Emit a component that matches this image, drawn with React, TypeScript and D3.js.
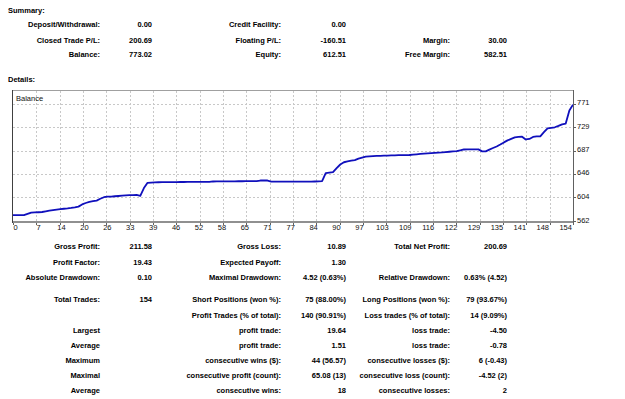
import * as d3 from 'd3'

// balance after each closed trade (0 = start)
const balance = [
  572.3, 572.3, 572.3, 572.3, 574.5, 576.8, 577.2, 577.6, 578.0, 579.2,
  580.4, 581.4, 582.4, 583.2, 583.8, 584.4, 585.2, 586.3, 587.6, 591.5,
  594.0, 596.0, 597.2, 598.3, 601.5, 604.3, 605.2, 605.5, 606.0, 606.5,
  607.0, 607.4, 607.9, 608.2, 608.4, 606.7, 620.5, 629.9, 630.3, 630.6,
  630.9, 631.1, 631.2, 631.2, 631.3, 631.3, 631.4, 631.4, 631.5, 631.5,
  631.5, 631.6, 631.6, 631.7, 631.7, 632.3, 632.4, 632.4, 632.5, 632.5,
  632.6, 632.6, 632.7, 632.7, 632.8, 632.8, 632.9, 632.9, 634.0, 634.0,
  634.0, 632.2, 632.2, 632.2, 632.2, 632.2, 632.2, 632.2, 632.2, 632.2,
  632.2, 632.2, 632.2, 632.3, 632.4, 633.0, 647.2, 648.2, 649.0, 656.0,
  662.5, 666.5, 668.0, 669.3, 670.4, 673.0, 674.8, 676.5, 677.0, 677.4,
  677.7, 678.0, 678.2, 678.4, 678.6, 678.8, 679.0, 679.1, 679.3, 679.4,
  680.0, 680.6, 681.3, 682.0, 682.4, 682.8, 683.2, 683.6, 684.0, 684.6,
  685.2, 685.8, 686.4, 687.8, 689.2, 689.4, 689.4, 689.4, 689.4, 685.8,
  685.8, 689.0, 691.8, 694.5, 698.0, 701.8, 705.4, 708.0, 710.6, 711.5,
  712.0, 707.0, 707.9, 711.5, 712.6, 712.6, 720.0, 726.9, 727.8, 728.7,
  731.2, 734.0, 735.3, 758.5, 769.0,
]

const xTickLabels = [
  '0', '7', '14', '20', '26', '33', '39', '46', '52', '58', '65', '71', '77',
  '84', '90', '97', '103', '109', '116', '122', '129', '135', '141', '148', '154',
]
const yTicks = [562, 604, 646, 687, 729, 771]

const summaryRows = [
  ['Deposit/Withdrawal:', '0.00', 'Credit Facility:', '0.00', '', ''],
  ['Closed Trade P/L:', '200.69', 'Floating P/L:', '-160.51', 'Margin:', '30.00'],
  ['Balance:', '773.02', 'Equity:', '612.51', 'Free Margin:', '582.51'],
]

const detailRows = [
  ['Gross Profit:', '211.58', 'Gross Loss:', '10.89', 'Total Net Profit:', '200.69'],
  ['Profit Factor:', '19.43', 'Expected Payoff:', '1.30', '', ''],
  ['Absolute Drawdown:', '0.10', 'Maximal Drawdown:', '4.52 (0.63%)', 'Relative Drawdown:', '0.63% (4.52)'],
  ['Total Trades:', '154', 'Short Positions (won %):', '75 (88.00%)', 'Long Positions (won %):', '79 (93.67%)'],
  ['', '', 'Profit Trades (% of total):', '140 (90.91%)', 'Loss trades (% of total):', '14 (9.09%)'],
  ['Largest', '', 'profit trade:', '19.64', 'loss trade:', '-4.50'],
  ['Average', '', 'profit trade:', '1.51', 'loss trade:', '-0.78'],
  ['Maximum', '', 'consecutive wins ($):', '44 (56.57)', 'consecutive losses ($):', '6 (-0.43)'],
  ['Maximal', '', 'consecutive profit (count):', '65.08 (13)', 'consecutive loss (count):', '-4.52 (2)'],
  ['Average', '', 'consecutive wins:', '18', 'consecutive losses:', '2'],
]

const W = 625
const H = 399
const colRight = [100, 152, 281, 346, 450, 507]
const summaryY = [24.5, 40, 54.5]
const detailY = [246, 262, 277, 299, 315, 330, 345, 360, 375, 390]

const plot = { left: 13, right: 573, top: 91, bottom: 221 }

function Table({ rows, ys }: { rows: string[][]; ys: number[] }) {
  return (
    <g>
      {rows.map((row, r) =>
        row.map((cell, c) =>
          cell ? (
            <text
              key={`${r}-${c}`}
              x={colRight[c]}
              y={ys[r]}
              textAnchor="end"
              dominantBaseline="central"
            >
              {cell}
            </text>
          ) : null
        )
      )}
    </g>
  )
}

export default function App() {
  const x = d3.scaleLinear().domain([0, balance.length - 1]).range([plot.left, plot.right])
  const y = d3.scaleLinear().domain([562, 771]).range([plot.bottom, 103.5])
  const gridX = d3.scaleLinear().domain([0, xTickLabels.length - 1]).range([plot.left, plot.right])
  const labelX = d3.scalePoint<string>().domain(xTickLabels).range([15.7, 565.7])

  const line = d3
    .line<number>()
    .x((_, i) => x(i))
    .y(d => y(d))

  return (
    <svg
      width={W}
      height={H}
      style={{ position: 'absolute', left: 0, top: 0, background: '#fff' }}
      fontFamily="'Liberation Sans', Arial, sans-serif"
    >
      <g fontSize={7.5} fontWeight="bold" fill="#000">
        <text x={8} y={10} dominantBaseline="central">Summary:</text>
        <Table rows={summaryRows} ys={summaryY} />
        <text x={8} y={79} dominantBaseline="central">Details:</text>
        <Table rows={detailRows} ys={detailY} />
      </g>

      {/* chart */}
      <rect
        x={plot.left}
        y={plot.top}
        width={plot.right - plot.left}
        height={plot.bottom - plot.top}
        fill="#fff"
      />
      <g stroke="#c8c8c8" strokeWidth={1} strokeDasharray="2,2" shapeRendering="crispEdges">
        {yTicks.slice(1).map(t => (
          <line key={t} x1={plot.left} x2={plot.right} y1={Math.round(y(t)) + 0.5} y2={Math.round(y(t)) + 0.5} />
        ))}
        {xTickLabels.slice(1, -1).map((_, i) => (
          <line
            key={i}
            x1={Math.round(gridX(i + 1)) + 0.5}
            x2={Math.round(gridX(i + 1)) + 0.5}
            y1={plot.top}
            y2={plot.bottom}
          />
        ))}
      </g>
      <path d={line(balance) || ''} fill="none" stroke="#1010bc" strokeWidth={1.8} strokeLinejoin="round" />

      <g shapeRendering="crispEdges">
        <line x1={plot.left} x2={plot.right} y1={plot.top - 0.5} y2={plot.top - 0.5} stroke="#a0a0a0" />
        <line x1={plot.left} x2={plot.right + 1} y1={plot.bottom + 1} y2={plot.bottom + 1} stroke="#909090" strokeWidth={2} />
        <line x1={plot.left - 0.5} x2={plot.left - 0.5} y1={plot.top - 1} y2={plot.bottom + 2} stroke="#404040" strokeWidth={1.5} />
        <line x1={plot.right + 0.5} x2={plot.right + 0.5} y1={plot.top - 1} y2={plot.bottom + 2} stroke="#606060" />
        {xTickLabels.map((_, i) => (
          <line
            key={i}
            x1={Math.round(gridX(i)) + 0.5}
            x2={Math.round(gridX(i)) + 0.5}
            y1={plot.bottom + 2}
            y2={plot.bottom + 4}
            stroke="#606060"
          />
        ))}
        {yTicks.map(t => (
          <line
            key={t}
            x1={plot.right + 1}
            x2={plot.right + 3}
            y1={Math.round(y(t)) + 0.5}
            y2={Math.round(y(t)) + 0.5}
            stroke="#606060"
          />
        ))}
      </g>

      <g fontSize={7.5} fill="#111">
        <text x={16} y={98.3} dominantBaseline="central">Balance</text>
        {xTickLabels.map(l => (
          <text key={l} x={labelX(l)} y={227} textAnchor="middle" dominantBaseline="central">
            {l}
          </text>
        ))}
        {yTicks.map(t => (
          <text key={t} x={577} y={y(t) - 1} dominantBaseline="central">
            {t}
          </text>
        ))}
      </g>
    </svg>
  )
}
